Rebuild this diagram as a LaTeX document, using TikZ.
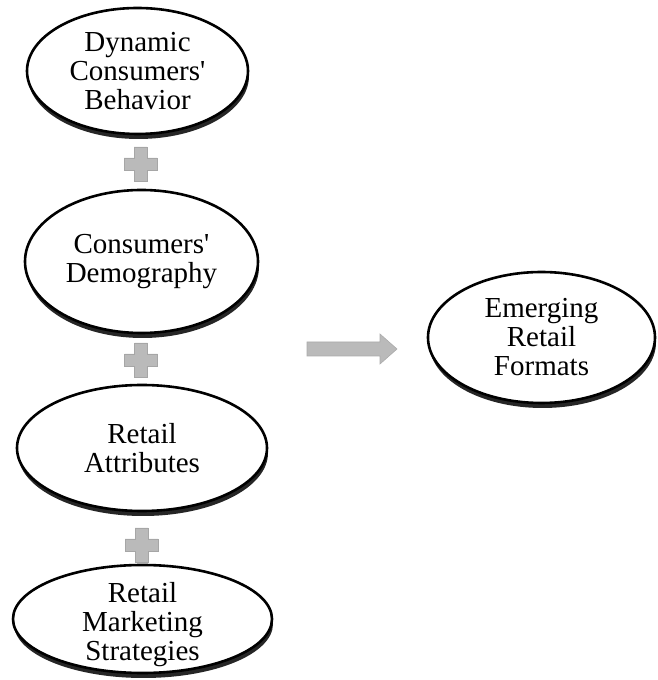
\documentclass[tikz,border=0pt]{standalone}
\usepackage{fontspec}
\setmainfont{Liberation Serif}
\usetikzlibrary{shapes.geometric,shadows}
\begin{document}
\begin{tikzpicture}[x=1pt,y=1pt,
  factortext/.style={align=center, font=\fontsize{29}{29}\selectfont},
  factor/.style={ellipse, draw=black, line width=2.6pt, fill=white, inner sep=0pt,
    factortext,
    drop shadow={shadow xshift=1pt, shadow yshift=-5pt, fill=black!85, opacity=1}},
  plusfill/.style={fill=black!27, draw=black!35, line width=0.6pt},
  arrowfill/.style={fill=black!27, draw=black!33, line width=0.6pt},
  plusmark/.pic={
    \path[plusfill] (-16.5,-6) -- (-6.5,-6) -- (-6.5,-17) -- (6.5,-17) -- (6.5,-6)
      -- (16.5,-6) -- (16.5,6) -- (6.5,6) -- (6.5,17) -- (-6.5,17) -- (-6.5,6)
      -- (-16.5,6) -- cycle;
  }]
\useasboundingbox (0,0) rectangle (657,680);

% factor ellipses in the left column
\node[factor, minimum width=221, minimum height=126] (behavior) at (137.5,609)
  {Dynamic\\Consumers\textquotesingle\\Behavior};
\node[factor, minimum width=233, minimum height=143] (demo) at (141.5,418.5)
  {Consumers\textquotesingle\\Demography};
\node[factor, minimum width=250, minimum height=126] (attr) at (142,232)
  {Retail\\Attributes};
% this label sits a little below the centre of its ellipse
\node[factor, minimum width=259, minimum height=108,
  label={[factortext, yshift=-6pt]center:{Retail\\Marketing\\Strategies}}]
  (strat) at (142.5,61) {};

% outcome ellipse
\node[factor, minimum width=227, minimum height=131] (formats) at (541.5,342.5)
  {Emerging\\Retail\\Formats};

% plus signs between the factors
\pic at (140.5,516) {plusmark};
\pic at (141,320) {plusmark};
\pic at (141.5,135) {plusmark};

% block arrow towards the outcome
\coordinate (tail) at (307,331);
\coordinate (tip) at (397,331);
\path[arrowfill] (307,324) -- (380,324) -- (380,316) -- (tip) -- (380,346)
  -- (380,338) -- (307,338) -- cycle;
\end{tikzpicture}
\end{document}
